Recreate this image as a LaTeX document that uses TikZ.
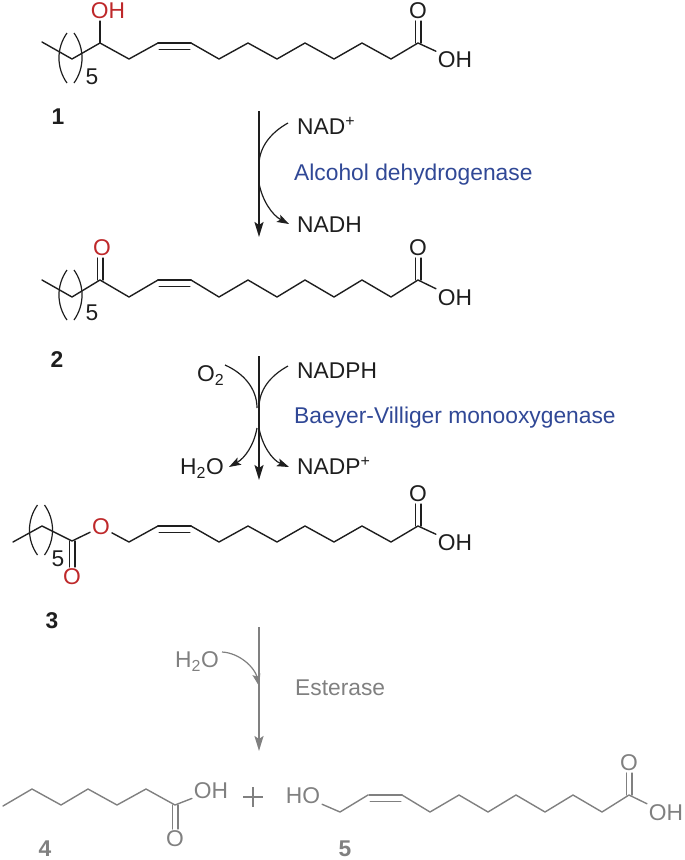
\documentclass[tikz,border=0pt]{standalone}
\usepackage{fontspec}
\setmainfont{Liberation Sans}
\usepackage{tikz}
\usetikzlibrary{arrows.meta}
\definecolor{inkA} {RGB}{30, 30, 30}
\definecolor{redA} {RGB}{190, 40, 42}
\definecolor{blueA}{RGB}{48, 72, 150}
\definecolor{grayA}{RGB}{128, 128, 128}
\tikzset{
  bond/.style={line width=1.4pt, line join=round, line cap=round},
  atom/.style={inner sep=0pt, outer sep=2pt, font=\fontsize{22.8}{24}\selectfont},
  label/.style={inner sep=0pt, anchor=base west, font=\fontsize{22.8}{24}\selectfont},
  number/.style={inner sep=0pt, font=\fontsize{22.8}{24}\selectfont\bfseries},
  mainarrow/.style={line width=1.9pt, -{Stealth[length=15pt, width=9pt, inset=3pt]}},
  curve/.style={line width=1.2pt},
  curvearrow/.style={line width=1.2pt, -{Stealth[length=12pt, width=8pt, inset=2.5pt]}}
}
% zigzag with the acid end: name, top y, bottom y
\newcommand{\acidtail}[3]{
  \coordinate (#1c) at (418,#2);
  \node[atom] (#1o) at (418,#2-32) {O};
  \node[atom] (#1oh) at (455,#3+1) {OH};
  \draw[bond] (191,#2) -- (219,#3) -- (248,#2) -- (277,#3) -- (305,#2) -- (334,#3) -- (362,#2) -- (391,#3) -- (#1c) -- (#1oh);
  \draw[bond] ([xshift=-2.8pt]#1c) -- ([xshift=-2.8pt]#1o.south);
  \draw[bond] ([xshift=2.8pt]#1c) -- ([xshift=2.8pt]#1o.south);
  \draw[bond] (158,#2) -- (191,#2);
  \draw[bond, line width=1pt] (159,#2+6) -- (190,#2+6);
}
% the pair of round brackets: x, y of the middle
\newcommand{\repeatbrackets}[2]{
  \draw[curve] (#1-3.5,#2-25) .. controls (#1-14.2,#2-10) and (#1-14.2,#2+10) .. (#1-3.5,#2+25);
  \draw[curve] (#1+3.5,#2-25) .. controls (#1+14.2,#2-10) and (#1+14.2,#2+10) .. (#1+3.5,#2+25);
}

\begin{document}
\begin{tikzpicture}[x=1pt, y=-1pt, color=inkA]
  \useasboundingbox (0,0) rectangle (685,860);

  % hydroxy acid
  \coordinate (oneC) at (100,43);
  \node[atom, text=redA] (oneR) at (108,11) {OH};
  \draw[bond] (42,42) -- (72,59) -- (oneC) -- (129,59) -- (158,43);
  \draw[bond] (oneC) -- (oneC |- oneR.south);
  \acidtail{one}{43}{59}
  \repeatbrackets{70.5}{58}
  \node[atom] (oneF) at (92,77) {5};
  \node[number] (oneN) at (58,117) {1};

  % keto acid
  \coordinate (twoC) at (100,280);
  \node[atom, text=redA] (twoR) at (102,248) {O};
  \draw[bond] (42,280) -- (72,297) -- (twoC) -- (129,297) -- (158,280);
  \draw[bond] ([xshift=-2.8pt]twoC) -- ([xshift=-2.8pt]twoC |- twoR.south);
  \draw[bond] ([xshift=2.8pt]twoC) -- ([xshift=2.8pt]twoC |- twoR.south);
  \acidtail{two}{280}{297}
  \repeatbrackets{70.5}{295}
  \node[atom] (twoF) at (92,313) {5};
  \node[number] (twoN) at (57,360) {2};

  % ester
  \coordinate (threeC) at (72,541);
  \node[atom, text=redA] (threeR) at (101,527) {O};
  \node[atom, text=redA] (threeQ) at (72,577) {O};
  \draw[bond] (13,542) -- (42,526) -- (threeC) -- (threeR) -- (129,542) -- (158,526);
  \draw[bond] ([xshift=-2.8pt]threeC) -- ([xshift=-2.8pt]threeQ.north);
  \draw[bond] ([xshift=2.8pt]threeC) -- ([xshift=2.8pt]threeQ.north);
  \acidtail{three}{526}{542}
  \repeatbrackets{41}{530}
  \node[atom] (threeF) at (58,559) {5};
  \node[number] (threeN) at (52,621) {3};

  % first step
  \coordinate (aS) at (259,111);
  \coordinate (aE) at (259,237);
  \draw[mainarrow] (aS) -- (aE);
  \node[label] (nad) at (297,134) {NAD\textsuperscript{+}};
  \node[label] (nadh) at (297,232) {NADH};
  \node[label, text=blueA] (adh) at (294,180) {Alcohol dehydrogenase};
  \draw[curve] (288,123) .. controls (270,133) and (259,148) .. (259,165);
  \draw[curvearrow] (259,183) .. controls (262,200) and (272,215) .. (289,224);

  % second step
  \coordinate (bS) at (259,356);
  \coordinate (bE) at (259,480);
  \draw[mainarrow] (bS) -- (bE);
  \node[label] (nadph) at (297,378) {NADPH};
  \node[label] (nadp) at (297,474) {NADP\textsuperscript{+}};
  \node[label] (otwo) at (197,381) {O\textsubscript{2}};
  \node[label] (water) at (180,474) {H\textsubscript{2}O};
  \node[label, text=blueA] (bvm) at (294,423) {Baeyer-Villiger monooxygenase};
  \draw[curve] (288,366) .. controls (270,376) and (259,390) .. (259,408);
  \draw[curvearrow] (259,428) .. controls (262,445) and (272,460) .. (289,467);
  \draw[curve] (225,365) .. controls (243,373) and (257,388) .. (257,408);
  \draw[curvearrow] (257,428) .. controls (254,445) and (245,458) .. (229,467);

  \begin{scope}[color=grayA]
    % third step
    \coordinate (cS) at (259,627);
    \coordinate (cE) at (259,751);
    \draw[mainarrow] (cS) -- (cE);
    \node[label] (waterB) at (175,667) {H\textsubscript{2}O};
    \node[label] (est) at (295,695) {Esterase};
    \draw[curvearrow] (222,652) .. controls (240,653) and (255,668) .. (259,686);

    % heptanoic acid
    \coordinate (fourC) at (175,805);
    \node[atom] (fourOH) at (211,791) {OH};
    \node[atom] (fourO) at (175,839) {O};
    \draw[bond] (3,806) -- (32,789) -- (61,805) -- (88,789) -- (117,805) -- (146,789) -- (fourC) -- (fourOH);
    \draw[bond] ([xshift=-2.8pt]fourC) -- ([xshift=-2.8pt]fourO.north);
    \draw[bond] ([xshift=2.8pt]fourC) -- ([xshift=2.8pt]fourO.north);
    \node[number] (fourN) at (45,849) {4};

    \draw[curve] (243,797) -- (263,797);
    \draw[curve] (253,787) -- (253,807);

    % hydroxy acid, shorter
    \node[atom] (fiveHO) at (303,796) {HO};
    \draw[bond] (fiveHO) -- (340,812) -- (368,795);
    \begin{scope}[xshift=211pt]
      \acidtail{five}{795}{812}
    \end{scope}
    \node[number] (fiveN) at (345,849) {5};
  \end{scope}
\end{tikzpicture}
\end{document}
